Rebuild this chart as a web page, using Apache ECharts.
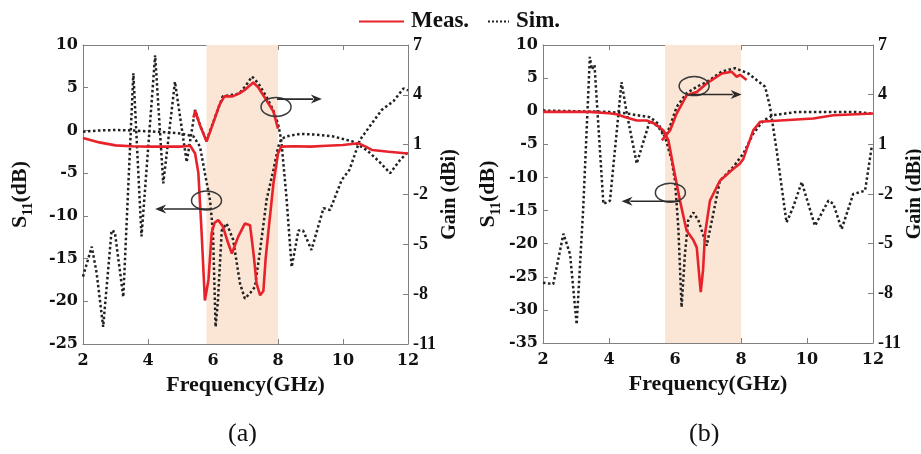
<!DOCTYPE html>
<html><head><meta charset="utf-8">
<script src="https://cdn.jsdelivr.net/npm/echarts@6/dist/echarts.min.js"></script>
<style>html,body{margin:0;padding:0;background:#fff}#c{width:921px;height:454px}</style>
</head><body><div id="c"></div>
<script>
// ---- axis ranges / ticks ----
const freqMin = 2, freqMax = 12, freqStep = 2;
const s11MinA = -25, s11MinB = -35, s11Max = 10, s11Step = 5;
const gainMin = -11, gainMax = 7, gainStep = 3;
const bandA = [5.8, 8], bandB = [5.7, 8];
const legendNames = ['Meas.', 'Sim.'];
const panelLabels = ['(a)', '(b)'];

// ---- panel (a) data: [frequency GHz, value] ----
const measS11A = [[2.0,-0.9],[2.5,-1.4],[3.0,-1.75],[3.5,-1.85],[4.0,-1.9],[4.5,-1.9],[5.0,-1.9],[5.3,-1.8],[5.45,-2.7],[5.55,-5.0],[5.65,-12],[5.75,-19.9],[5.86,-17.5],[5.96,-12],[6.05,-10.8],[6.16,-10.5],[6.3,-11.2],[6.45,-13],[6.58,-14.4],[6.78,-12.4],[6.98,-10.9],[7.14,-11.1],[7.25,-14.5],[7.34,-17.9],[7.45,-19.3],[7.55,-18.8],[7.62,-15],[7.7,-12],[7.86,-6.2],[8.0,-2.7],[8.1,-1.9],[8.5,-1.85],[9.0,-1.9],[9.5,-1.8],[10.0,-1.7],[10.47,-1.5],[10.7,-1.9],[10.9,-2.3],[11.4,-2.5],[12,-2.7]];
const measGainA = [[5.4,2.63],[5.45,3.04],[5.6,2.17],[5.8,1.19],[6.0,2.27],[6.2,3.40],[6.35,3.91],[6.6,3.91],[6.8,4.07],[7.0,4.33],[7.24,4.74],[7.4,4.43],[7.6,3.81],[7.86,2.99],[8.0,1.96]];
const simS11A = [[2.0,-0.15],[2.5,0.0],[3.0,0.05],[3.5,0.0],[4.0,-0.1],[4.5,-0.2],[5.0,-0.35],[5.4,-0.7],[5.6,-1.9],[5.75,-5],[5.91,-8.2],[6.0,-12],[6.08,-23],[6.15,-20],[6.27,-11.7],[6.42,-10.9],[6.62,-12.8],[6.83,-17.9],[6.98,-19.7],[7.15,-19],[7.29,-18.3],[7.45,-14],[7.65,-8.1],[7.86,-4.6],[8.0,-2],[8.1,-1.0],[8.26,-0.7],[8.68,-0.4],[9.2,-0.5],[9.7,-0.7],[10.3,-1.3],[10.73,-2.3],[11.1,-3.6],[11.45,-5],[11.75,-3.5],[12,-2.5]];
const simGainA = [[2.0,-6.94],[2.27,-5.14],[2.42,-6.73],[2.62,-9.97],[2.88,-4.16],[2.98,-4.26],[3.24,-8.17],[3.55,5.30],[3.8,-4.52],[4.22,6.38],[4.47,-1.33],[4.83,4.79],[5.19,-0.05],[5.45,3.09],[5.6,2.17],[5.8,1.24],[6.0,2.32],[6.3,3.91],[6.5,3.97],[6.8,4.07],[7.0,4.53],[7.2,5.10],[7.4,4.68],[7.65,3.86],[7.85,3.09],[8.0,2.27],[8.1,1.29],[8.26,-2.15],[8.42,-6.37],[8.63,-4.16],[8.77,-4.16],[9.03,-5.34],[9.4,-2.82],[9.6,-2.93],[9.96,-1.13],[10.2,-0.51],[10.52,1.29],[11.19,3.09],[11.55,3.61],[11.86,4.38],[12,4.27]];

// ---- panel (b) data ----
const measS11B = [[2.0,-0.1],[3.0,-0.1],[3.42,-0.1],[4.0,-0.3],[4.23,-0.45],[4.5,-0.9],[4.84,-1.4],[5.14,-1.4],[5.39,-1.9],[5.65,-2.9],[5.8,-4.4],[5.95,-8.4],[6.15,-13.5],[6.35,-18],[6.56,-19.5],[6.66,-20.6],[6.72,-24],[6.78,-27.3],[6.85,-24],[6.91,-18.5],[7.06,-13.5],[7.36,-10.5],[7.77,-8.7],[7.97,-7.9],[8.07,-7.2],[8.37,-2.9],[8.58,-1.6],[9.18,-1.4],[10.19,-1.1],[10.8,-0.6],[11.5,-0.45],[12,-0.35]];
const measGainB = [[5.6,1.24],[5.85,1.84],[6.05,2.86],[6.35,3.96],[6.66,4.16],[6.96,4.68],[7.42,5.28],[7.72,5.38],[7.87,5.08],[7.97,5.2],[8.17,4.88]];
const simS11B = [[2.0,0.1],[3.0,0.0],[4.0,-0.1],[4.5,-0.3],[4.84,-0.6],[5.24,-0.9],[5.5,-1.9],[5.7,-3.9],[5.9,-7.4],[6.0,-10.5],[6.1,-17.5],[6.2,-29.6],[6.3,-21.6],[6.4,-16.5],[6.56,-15.3],[6.71,-16.5],[6.96,-20.3],[7.16,-15.5],[7.36,-10.5],[7.77,-8.4],[8.07,-6.4],[8.37,-3.4],[8.68,-1.4],[8.98,-0.6],[9.69,-0.1],[11.5,-0.1],[12,-0.4]];
const simGainB = [[2.0,-7.36],[2.31,-7.44],[2.62,-4.4],[2.82,-5.64],[3.02,-9.88],[3.22,-2.8],[3.42,6.28],[3.48,5.52],[3.56,5.8],[3.83,-2.6],[4.03,-2.4],[4.38,4.76],[4.54,2.86],[4.84,-0.16],[5.24,2.44],[5.5,2.04],[5.7,1.4],[5.85,2.1],[6.05,3.26],[6.35,4.08],[6.66,4.48],[6.96,4.76],[7.42,5.4],[7.82,5.6],[8.22,5.28],[8.73,4.48],[8.88,3.26],[9.08,0.64],[9.38,-3.72],[9.58,-2.8],[9.84,-1.28],[10.24,-3.92],[10.65,-2.4],[10.8,-2.6],[11.05,-4.12],[11.4,-2.0],[11.76,-1.8],[11.96,0.84]];

// ---- annotation anchors (data coords on the S11 axis) ----
const annotA = [
  {c:[5.8,-8.2], from:[5.91,-9.2], to:[4.22,-9.2]},
  {c:[7.94,2.75], from:[7.97,3.67], to:[9.35,3.67]}
];
const annotB = [
  {c:[6.58,3.79], from:[6.48,2.53], to:[8.02,2.53]},
  {c:[5.86,-12.3], from:[6.15,-13.6], to:[4.38,-13.6]}
];

const FONT = '"Liberation Serif","Times New Roman",serif';
const TICKFONT = '"DejaVu Serif",serif';
const RED = '#e8222a', DOT = '#222222', AX = '#808080', BAND = '#fbe6d6', TXT = '#111';

const chart = echarts.init(document.getElementById('c'));

const grids = [
  {left:83, top:45, width:325, height:299, outerBoundsMode:'none', containLabel:false},
  {left:543, top:45, width:330, height:298, outerBoundsMode:'none', containLabel:false}
];

function xAxes(gi){
  const base = {gridIndex:gi, type:'value', min:freqMin, max:freqMax, interval:freqStep,
    splitLine:{show:false}, axisLine:{show:true, onZero:false, lineStyle:{color:AX, width:1}},
    axisTick:{show:true, inside:true, length:5, lineStyle:{color:AX}}};
  return [
    Object.assign({}, base, {position:'bottom',
      axisLabel:{color:TXT, fontFamily:TICKFONT, fontWeight:'bold', fontSize:16, margin:9},
      name:'Frequency(GHz)', nameLocation:'middle', nameGap:29,
      nameTextStyle:{color:TXT, fontFamily:FONT, fontWeight:'bold', fontSize:22}}),
    Object.assign({}, base, {position:'top', axisLabel:{show:false}})
  ];
}
function s11Name(){
  return {
    name:'{m|S}{s|11}{m|(dB)}', nameLocation:'middle',
    nameTextStyle:{rich:{
      m:{fontFamily:FONT, fontWeight:'bold', fontSize:22, color:TXT},
      s:{fontFamily:FONT, fontWeight:'bold', fontSize:14, color:TXT, lineHeight:30, verticalAlign:'bottom'}
    }}
  };
}
function yAxes(gi, s11Min, gapL, gapR){
  const base = {gridIndex:gi, type:'value', splitLine:{show:false},
    axisLine:{show:true, onZero:false, lineStyle:{color:AX, width:1}},
    axisTick:{show:true, inside:true, length:5, lineStyle:{color:AX}}};
  return [
    Object.assign({}, base, s11Name(), {position:'left', min:s11Min, max:s11Max, interval:s11Step, nameGap:gapL,
      axisLabel:{color:TXT, fontFamily:TICKFONT, fontWeight:'bold', fontSize:16, margin:5}}),
    Object.assign({}, base, {position:'right', min:gainMin, max:gainMax, interval:gainStep,
      axisLabel:{color:TXT, fontFamily:FONT, fontWeight:'bold', fontSize:18, margin:5},
      name:'Gain (dBi)', nameLocation:'middle', nameGap:gapR,
      nameTextStyle:{color:TXT, fontFamily:FONT, fontWeight:'bold', fontSize:20}})
  ];
}

function panelSeries(gi, band, simS11, simGain, measS11, measGain){
  const xi = gi*2, yi = gi*2;
  const dotted = {color:DOT, width:2.5, type:'dotted'};
  const solid = {color:RED, width:2.6};
  return [
    {name:legendNames[1], type:'line', xAxisIndex:xi, yAxisIndex:yi, data:simS11, symbol:'none',
      lineStyle:dotted, itemStyle:{color:DOT}, z:2,
      markArea:{silent:true, itemStyle:{color:BAND}, data:[[{xAxis:band[0]},{xAxis:band[1]}]]}},
    {name:legendNames[1], type:'line', xAxisIndex:xi, yAxisIndex:yi+1, data:simGain, symbol:'none',
      lineStyle:dotted, itemStyle:{color:DOT}, z:2},
    {name:legendNames[0], type:'line', xAxisIndex:xi, yAxisIndex:yi, data:measS11, symbol:'none',
      lineStyle:solid, itemStyle:{color:RED}, z:3},
    {name:legendNames[0], type:'line', xAxisIndex:xi, yAxisIndex:yi+1, data:measGain, symbol:'none',
      lineStyle:solid, itemStyle:{color:RED}, z:3}
  ];
}

const legendText = {color:TXT, fontFamily:FONT, fontWeight:'bold', fontSize:23, padding:[0,0,0,2]};
const option = {
  animation:false,
  backgroundColor:'#fff',
  grid:grids,
  xAxis:[].concat(xAxes(0), xAxes(1)),
  yAxis:[].concat(yAxes(0, s11MinA, 48, 28), yAxes(1, s11MinB, 40, 26)),
  legend:[
    {data:[legendNames[0]], left:353, top:5, itemWidth:45, itemHeight:14, itemStyle:{opacity:0}, selectedMode:false, textStyle:legendText},
    {data:[legendNames[1]], left:482, top:5, itemWidth:21, itemHeight:14, itemStyle:{opacity:0}, selectedMode:false, textStyle:legendText}
  ],
  series:[].concat(
    panelSeries(0, bandA, simS11A, simGainA, measS11A, measGainA),
    panelSeries(1, bandB, simS11B, simGainB, measS11B, measGainB)
  )
};
chart.setOption(option);

// annotations: ellipses + arrows placed through the S11 axis scale
function annotGraphics(list, seriesIndex){
  const out = [];
  list.forEach((a) => {
    const c = chart.convertToPixel({seriesIndex}, a.c);
    const p1 = chart.convertToPixel({seriesIndex}, a.from);
    const p2 = chart.convertToPixel({seriesIndex}, a.to);
    out.push({type:'ellipse', shape:{cx:c[0], cy:c[1], rx:15, ry:9.5}, style:{fill:null, stroke:'#3a3a3a', lineWidth:1.5}, z:50});
    const dir = Math.sign(p2[0]-p1[0]);
    const hl = 11, hw = 4.5;
    out.push({type:'line', shape:{x1:p1[0], y1:p1[1], x2:p2[0]-dir*hl*0.8, y2:p2[1]}, style:{stroke:'#2a2a2a', lineWidth:1.6}, z:50});
    out.push({type:'polygon', shape:{points:[[p2[0],p2[1]],[p2[0]-dir*hl,p2[1]-hw],[p2[0]-dir*hl*0.7,p2[1]],[p2[0]-dir*hl,p2[1]+hw]]}, style:{fill:'#2a2a2a'}, z:50});
  });
  return out;
}
const gfx = [].concat(annotGraphics(annotA, 0), annotGraphics(annotB, 4));
gfx.push({type:'text', left:228, top:421, style:{text:panelLabels[0], font:'26px ' + FONT, fill:TXT}, z:50});
gfx.push({type:'text', left:689, top:421, style:{text:panelLabels[1], font:'26px ' + FONT, fill:TXT}, z:50});
chart.setOption({graphic:gfx});
</script>
</body></html>
